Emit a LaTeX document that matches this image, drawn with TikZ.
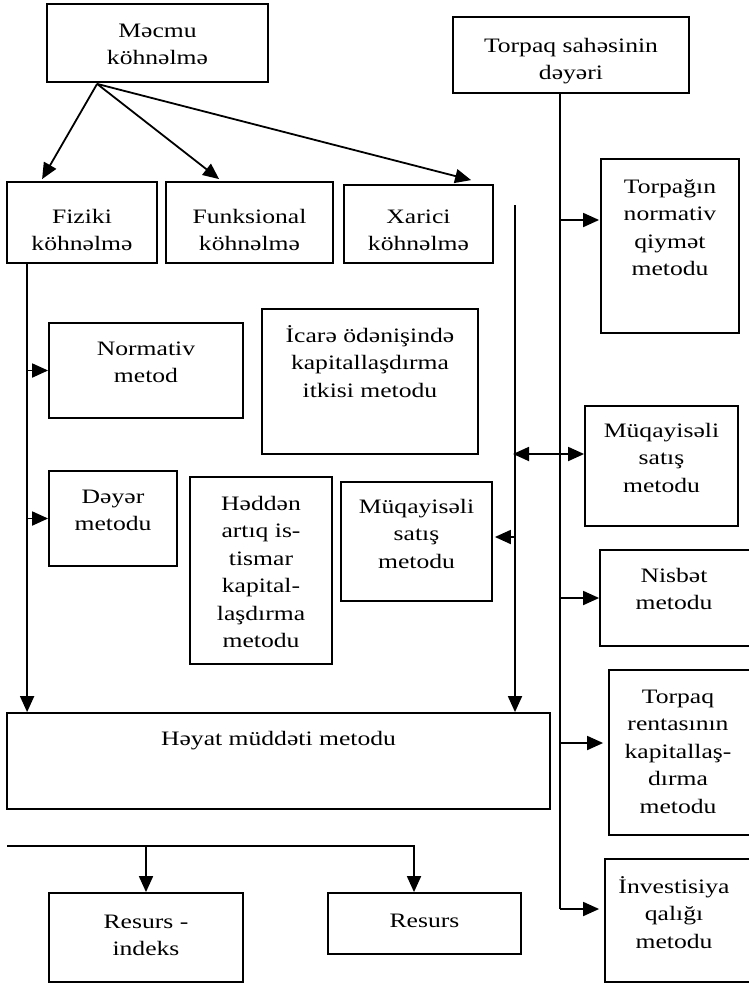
\documentclass[tikz,border=0pt]{standalone}
\usepackage{fontspec}
\setmainfont{Liberation Serif}[FakeStretch=1.25]
\usetikzlibrary{arrows.meta,calc}

% frame box from corner (x1,y1) to corner (x2,y2), in px-like units (y downwards)
\newcommand\frm[5]{%
  \node[frame, minimum width={(#4-#2)*1bp}, minimum height={(#5-#3)*1bp}]
    (#1) at ({(#2+#4)/2},{(#3+#5)/2}) {};}
% text block whose first baseline sits at the given height, centred on the frame
\newcommand\txt[3]{%
  \node[lbl, anchor=base] (#1-t) at (#1.center |- 0,#2)
    {\parbox[t]{320bp}{\centering #3}};}

\tikzset{
  frame/.style={draw, line width=1.8bp, rectangle, inner sep=0pt},
  lbl/.style={inner sep=0pt, font=\fontsize{20.5bp}{27.5bp}\selectfont},
  link/.style={line width=1.8bp},
  arr/.style={link, -{Triangle[length=16bp,width=14bp]}},
  darr/.style={link, {Triangle[length=16bp,width=14bp]}-{Triangle[length=16bp,width=14bp]}},
}

\begin{document}
\begin{tikzpicture}[x=1bp, y=-1bp]
\useasboundingbox (0,0) rectangle (749,983);

% ---- boxes ----
\frm{mecmu}{47}{4}{268}{82}
\frm{torp}{453}{17}{689}{93}
\frm{fiz}{7}{182}{157}{263}
\frm{funk}{166}{182}{333}{263}
\frm{xar}{344}{185}{493}{263}
\frm{tnorm}{601}{159}{739}{333}
\frm{norm}{49}{323}{243}{418}
\frm{icare}{262}{309}{478}{454}
\frm{deyer}{49}{471}{177}{566}
\frm{hedd}{190}{477}{332}{664}
\frm{muqL}{341}{482}{492}{601}
\frm{muqR}{585}{406}{738}{526}
\frm{nisb}{600}{550}{752}{646}
\frm{rent}{609}{670}{752}{835}
\frm{heyat}{7}{713}{550}{809}
\frm{invest}{605}{859}{752}{982}
\frm{resind}{49}{893}{243}{982}
\frm{resurs}{328}{893}{521}{954}

% ---- texts ----
\txt{mecmu}{37}{Məcmu\\köhnəlmə}
\txt{torp}{52}{Torpaq sahəsinin\\dəyəri}
\txt{fiz}{223}{Fiziki\\köhnəlmə}
\txt{funk}{223}{Funksional\\köhnəlmə}
\txt{xar}{223}{Xarici\\köhnəlmə}
\txt{tnorm}{193}{Torpağın\\normativ\\qiymət\\metodu}
\txt{norm}{355}{Normativ\\metod}
\txt{icare}{342}{İcarə ödənişində\\kapitallaşdırma\\itkisi metodu}
\txt{deyer}{503}{Dəyər\\metodu}
\txt{hedd}{510}{Həddən\\artıq is-\\tismar\\kapital-\\laşdırma\\metodu}
\txt{muqL}{513}{Müqayisəli\\satış\\metodu}
\txt{muqR}{437}{Müqayisəli\\satış\\metodu}
\node[lbl, anchor=base] (nisb-t) at (674,582) {\parbox[t]{140bp}{\centering Nisbət\\metodu}};
\node[lbl, anchor=base] (rent-t) at (678,703) {\parbox[t]{140bp}{\centering Torpaq\\rentasının\\kapitallaş-\\dırma\\metodu}};
\txt{heyat}{745}{Həyat müddəti metodu}
\node[lbl, anchor=base] (invest-t) at (674,893) {\parbox[t]{140bp}{\centering İnvestisiya\\qalığı\\metodu}};
\txt{resind}{928}{Resurs -\\indeks}
\txt{resurs}{927}{Resurs}

% ---- connectors: Məcmu köhnəlmə fan-out ----
\coordinate (m0) at ($(mecmu.south west)+(51,1)$);
\draw[arr] (m0) -- ($(fiz.north west)+(36,-2)$);
\draw[arr] (m0) -- ($(funk.north west)+(54,-2)$);
\draw[arr] (m0) -- ($(xar.north west)+(128,-4)$);

% ---- left spine ----
\coordinate (l0) at ($(fiz.south west)+(21,0)$);
\coordinate (l1) at (l0 |- norm.west);
\coordinate (l2) at (l0 |- deyer.west);
\draw[arr] (l0) -- (l0 |- heyat.north);
\draw[arr] (l1) -- (norm.west);
\draw[arr] (l2) -- (deyer.west);

% ---- middle spine ----
\coordinate (c0) at (515,205);
\coordinate (c1) at (515,537);
\coordinate (c2) at (515,454);
\draw[arr] (c0) -- (c0 |- heyat.north);
\draw[arr] (c1) -- ($(muqL.east |- c1)+(2,0)$);
\draw[darr] ($(c2)+(-2,0)$) -- (muqR.west |- c2);

% ---- right spine ----
\coordinate (r0) at ($(torp.south west)+(108,0)$);
\coordinate (r1) at (r0 |- 0,220);
\coordinate (r2) at (r0 |- 0,598);
\coordinate (r3) at (r0 |- 0,743);
\coordinate (r4) at (r0 |- 0,909);
\draw[link] (r0) -- (r4);
\draw[arr] (r1) -- ($(tnorm.west |- r1)+(-1,0)$);
\draw[arr] (r2) -- (nisb.west |- r2);
\draw[arr] (r3) -- ($(rent.west |- r3)+(-5,0)$);
\draw[arr] (r4) -- ($(invest.west |- r4)+(-5,0)$);

% ---- bottom branch ----
\coordinate (b0) at (7,846);
\coordinate (b1) at (resind.north |- b0);
\coordinate (b2) at (414,846);
\draw[arr] (b0) -- (b2) -- (b2 |- resurs.north);
\draw[arr] (b1) -- (resind.north);
\end{tikzpicture}
\end{document}
